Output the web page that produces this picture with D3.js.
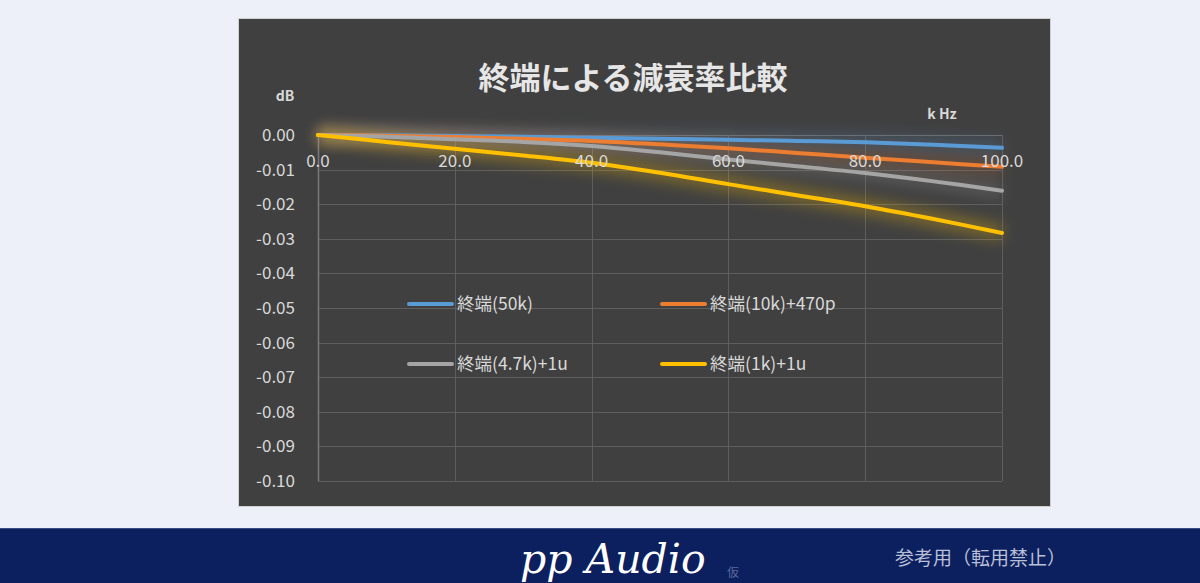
<!DOCTYPE html>
<html><head><meta charset="utf-8">
<script src="https://cdn.jsdelivr.net/npm/d3@7"></script>
<style>
html,body{margin:0;padding:0;background:#edf0f8;}
svg{display:block;}
</style></head>
<body>
<svg id="c" width="1200" height="583"></svg>
<script>
const freqs = [0,10,20,30,40,50,60,70,80,90,100];
const s50k   = [0,-0.0001,-0.0003,-0.0005,-0.0008,-0.0011,-0.0014,-0.0017,-0.0021,-0.0028,-0.0037];
const s10k   = [0,-0.0002,-0.0006,-0.0011,-0.0017,-0.0027,-0.0038,-0.0052,-0.0066,-0.0079,-0.0092];
const s47k   = [0,-0.0005,-0.0012,-0.0020,-0.0032,-0.0050,-0.0071,-0.0090,-0.0110,-0.0134,-0.0161];
const s1k    = [0,-0.0020,-0.0040,-0.0059,-0.0080,-0.0109,-0.0142,-0.0174,-0.0206,-0.0243,-0.0283];
const seriesNames = ["終端(50k)","終端(10k)+470p","終端(4.7k)+1u","終端(1k)+1u"];
const seriesColors = ["#5b9bd5","#ed7d31","#a5a5a5","#ffc000"];
const seriesData = [s50k,s10k,s47k,s1k];
const xTicks = [0,20,40,60,80,100];
const yTicks = [0,-0.01,-0.02,-0.03,-0.04,-0.05,-0.06,-0.07,-0.08,-0.09,-0.10];
const title = "終端による減衰率比較";

const svg = d3.select("#c");
const defs = svg.append("defs");
seriesColors.forEach((c,i)=>{
  const f = defs.append("filter").attr("id","glow"+i).attr("x","-10%").attr("y","-300%").attr("width","120%").attr("height","700%");
  f.append("feGaussianBlur").attr("in","SourceGraphic").attr("stdDeviation",7);
});

svg.append("rect").attr("x",0).attr("y",0).attr("width",1200).attr("height",583).attr("fill","#edf0f8");
svg.append("rect").attr("x",238.5).attr("y",18.5).attr("width",812).attr("height",488).attr("fill","#404040").attr("stroke","#d0d0d0").attr("stroke-width",1);
svg.append("rect").attr("x",0).attr("y",528).attr("width",1200).attr("height",55).attr("fill","#0c1f5e");
svg.append("line").attr("x1",0).attr("x2",1200).attr("y1",528.5).attr("y2",528.5).attr("stroke","#3a4d86");

const x = d3.scaleLinear().domain([0,100]).range([318,1002]);
const y = d3.scaleLinear().domain([-0.10,0]).range([481,135]);

const font = "'Noto Sans CJK JP','Noto Sans',sans-serif";
const txt = "#d9d9d9";

const g = svg.append("g");
g.selectAll(".hg").data(yTicks).join("line")
  .attr("x1",318).attr("x2",1002).attr("y1",d=>Math.round(y(d))+0.5).attr("y2",d=>Math.round(y(d))+0.5)
  .attr("stroke",d=>d===0?"#6a6a6a":"#5e5e5e").attr("stroke-width",1);
g.selectAll(".vg").data(xTicks).join("line")
  .attr("x1",d=>Math.round(x(d))+0.5).attr("x2",d=>Math.round(x(d))+0.5).attr("y1",135).attr("y2",481)
  .attr("stroke",d=>d===0?"#7a7a7a":"#5e5e5e").attr("stroke-width",d=>d===0?1.5:1);

const fmtY = d=>d3.format(".2f")(d).replace("\u2212","-");
svg.append("g").selectAll("text").data(yTicks).join("text")
  .attr("x",295).attr("y",d=>y(d)).attr("dy","0.35em").attr("text-anchor","end")
  .attr("fill",txt).attr("font-family",font).attr("font-size",17)
  .text(fmtY);

const line = d3.line().x((d,i)=>x(freqs[i])).y(d=>y(d)).curve(d3.curveCatmullRom);
const lg = svg.append("g");
seriesData.forEach((s,i)=>{
  lg.append("path").datum(s).attr("d",line).attr("fill","none")
    .attr("stroke",seriesColors[i]).attr("stroke-width",16).attr("stroke-opacity",i===3?0.3:0.22)
    .attr("filter","url(#glow"+i+")");
});
seriesData.forEach((s,i)=>{
  lg.append("path").datum(s).attr("d",line).attr("fill","none")
    .attr("stroke",seriesColors[i]).attr("stroke-width",4).attr("stroke-linecap","round");
});

svg.append("g").selectAll("text").data(xTicks).join("text")
  .attr("x",d=>x(d)).attr("y",161).attr("dy","0.35em").attr("text-anchor","middle")
  .attr("fill",txt).attr("font-family",font).attr("font-size",17)
  .text(d=>d3.format(".1f")(d));

svg.append("text").attr("x",633).attr("y",78).attr("dy","0.35em").attr("text-anchor","middle")
  .attr("fill","#e6e6e6").attr("font-family",font).attr("font-size",31).attr("font-weight","bold").text(title);
svg.append("text").attr("x",285).attr("y",96).attr("dy","0.35em").attr("text-anchor","middle")
  .attr("fill",txt).attr("font-family",font).attr("font-size",14).attr("font-weight","bold").text("dB");
svg.append("text").attr("x",942).attr("y",114).attr("dy","0.35em").attr("text-anchor","middle")
  .attr("fill",txt).attr("font-family",font).attr("font-size",14).attr("font-weight","bold").text("k Hz");

const legPos = [[407,304],[660,304],[407,364],[660,364]];
const leg = svg.append("g");
seriesNames.forEach((n,i)=>{
  const [lx,ly] = legPos[i];
  leg.append("line").attr("x1",lx+2).attr("x2",lx+45).attr("y1",ly).attr("y2",ly)
    .attr("stroke",seriesColors[i]).attr("stroke-width",4).attr("stroke-linecap","round");
  leg.append("text").attr("x",lx+50).attr("y",ly).attr("dy","0.35em")
    .attr("fill",txt).attr("font-family",font).attr("font-size",17.5).text(n);
});

svg.append("text").attr("x",520).attr("y",573).attr("fill","#ffffff")
  .attr("font-family","'DejaVu Serif','Liberation Serif',serif").attr("font-style","italic").attr("font-size",41).text("pp Audio");
svg.append("text").attr("x",727).attr("y",577).attr("fill","#5a6a9a")
  .attr("font-family",font).attr("font-size",12).text("仮");
svg.append("text").attr("x",895).attr("y",558).attr("dy","0.35em").attr("fill","#b8bfd6")
  .attr("font-family",font).attr("font-size",19).text("参考用（転用禁止）");
</script>
</body></html>
